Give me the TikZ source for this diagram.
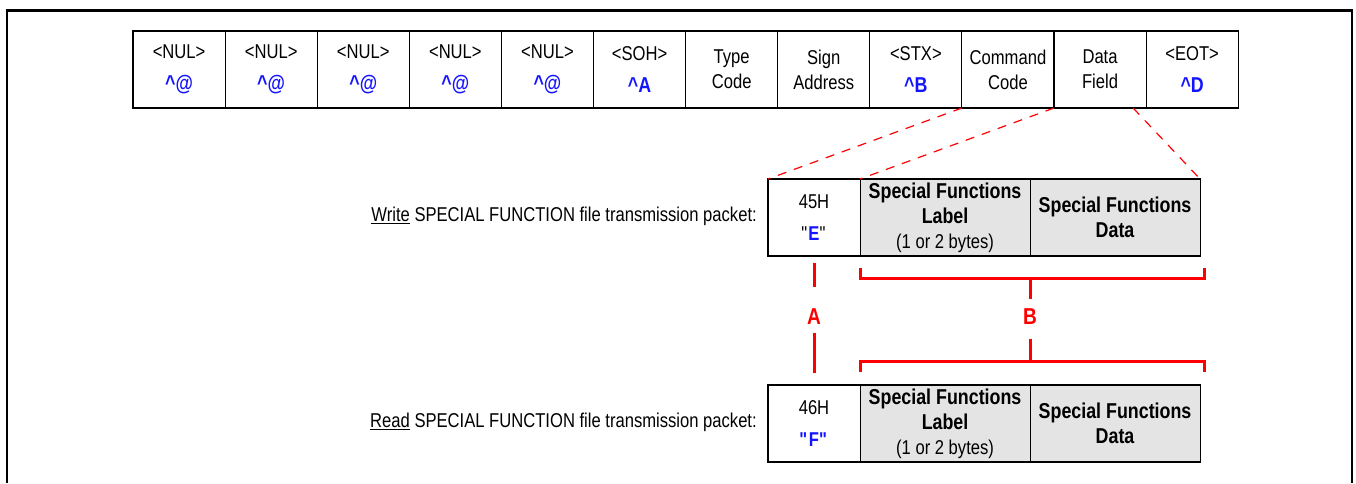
\documentclass[tikz,border=0pt]{standalone}
\usepackage{fontspec}
\setmainfont[FakeStretch=0.83]{Liberation Sans}
\usetikzlibrary{positioning}
\definecolor{ctrlblue}{RGB}{20,20,255}
\definecolor{fieldgray}{RGB}{228,228,228}
\newcommand{\ctrlkey}[1]{\textcolor{ctrlblue}{\fontsize{21.5}{25}\selectfont\bfseries\textasciicircum#1}}
\tikzset{
  cell/.style={draw, line width=1.1pt, minimum width=92.1pt, minimum height=77pt, inner sep=0pt, outer sep=0pt, align=center, font=\fontsize{20}{25}\selectfont},
  field/.style={cell, fill=fieldgray, minimum width=170pt, font=\fontsize{21.5}{25}\selectfont\bfseries},
  zoomline/.style={red, line width=1.2pt, dash pattern=on 9pt off 8pt},
  redline/.style={red, line width=3pt},
  redlbl/.style={text=red, inner sep=0pt, font=\fontsize{23}{23}\selectfont\bfseries},
  caption/.style={anchor=base east, inner sep=0pt, font=\fontsize{20}{25}\selectfont}
}
\begin{document}
\begin{tikzpicture}[x=1pt, y=-1pt]
  \useasboundingbox (0,0) rectangle (1356,483);
  \draw[line width=2.5pt] (7,483) -- (7,10.5) -- (1352,10.5) -- (1352,483);
  % packet frame
  \node[cell] (nul1) at (179.05,69.5) {<NUL>\\[7pt]\ctrlkey{@}};
  \node[cell, right=0pt of nul1] (nul2) {<NUL>\\[7pt]\ctrlkey{@}};
  \node[cell, right=0pt of nul2] (nul3) {<NUL>\\[7pt]\ctrlkey{@}};
  \node[cell, right=0pt of nul3] (nul4) {<NUL>\\[7pt]\ctrlkey{@}};
  \node[cell, right=0pt of nul4] (nul5) {<NUL>\\[7pt]\ctrlkey{@}};
  \node[cell, right=0pt of nul5] (soh) {<SOH>\\[7pt]\ctrlkey{A}};
  \node[cell, right=0pt of soh] (type) {Type\\Code};
  \node[cell, right=0pt of type] (addr) {Sign\\Address};
  \node[cell, right=0pt of addr] (stx) {<STX>\\[7pt]\ctrlkey{B}};
  \node[cell, right=0pt of stx] (cmd) {Command\\Code};
  \node[cell, right=0pt of cmd] (data) {Data\\Field};
  \node[cell, right=0pt of data] (eot) {<EOT>\\[7pt]\ctrlkey{D}};
  % write packet
  \node[cell] (wcode) at (814,217.5) {45H\\[7pt]\textquotedbl\textcolor{ctrlblue}{\bfseries E}\textquotedbl};
  \node[field, right=0pt of wcode] (wlabel) {Special Functions\\Label\\{\mdseries\fontsize{20}{25}\selectfont (1 or 2 bytes)}};
  \node[field, right=0pt of wlabel] (wdata) {Special Functions\\Data};
  \node[caption] (wtext) at ([xshift=-11pt, yshift=-4pt]wcode.west) {\underline{Write} SPECIAL FUNCTION file transmission packet:};
  % read packet
  \node[cell] (rcode) at (814,423.5) {46H\\[7pt]\textcolor{ctrlblue}{\bfseries\textquotedbl F\textquotedbl}};
  \node[field, right=0pt of rcode] (rlabel) {Special Functions\\Label\\{\mdseries\fontsize{20}{25}\selectfont (1 or 2 bytes)}};
  \node[field, right=0pt of rlabel] (rdata) {Special Functions\\Data};
  \node[caption] (rtext) at ([xshift=-11pt, yshift=-4pt]rcode.west) {\underline{Read} SPECIAL FUNCTION file transmission packet:};
  % zoom lines
  \draw[zoomline] (cmd.south west) -- (wcode.north west);
  \draw[zoomline] (data.south west) -- (wlabel.north west);
  \draw[zoomline] ([xshift=-13pt]eot.south west) -- (wdata.north east);
  % A and B
  \node[redlbl] (lblA) at (wcode.south |- 0,317) {A};
  \node[redlbl] (lblB) at (wdata.south west |- 0,317) {B};
  \draw[redline] ([yshift=-7pt]wcode.south) -- ([yshift=21.5pt]lblA.north);
  \draw[redline] ([yshift=-7.5pt]lblA.south) -- ([yshift=12pt]rcode.north);
  \draw[redline] ([yshift=-12pt]wlabel.south west) -- ([yshift=-22pt]wlabel.south west) -- ([xshift=4pt, yshift=-22pt]wdata.south east) -- ([xshift=4pt, yshift=-12pt]wdata.south east);
  \draw[redline] ([yshift=-22pt]wdata.south west) -- ([yshift=9.5pt]lblB.north);
  \draw[redline] ([yshift=-13.5pt]lblB.south) -- ([yshift=24pt]rdata.north west);
  \draw[redline] ([yshift=13pt]rlabel.north west) -- ([yshift=24pt]rlabel.north west) -- ([xshift=4pt, yshift=24pt]rdata.north east) -- ([xshift=4pt, yshift=13pt]rdata.north east);
\end{tikzpicture}
\end{document}
